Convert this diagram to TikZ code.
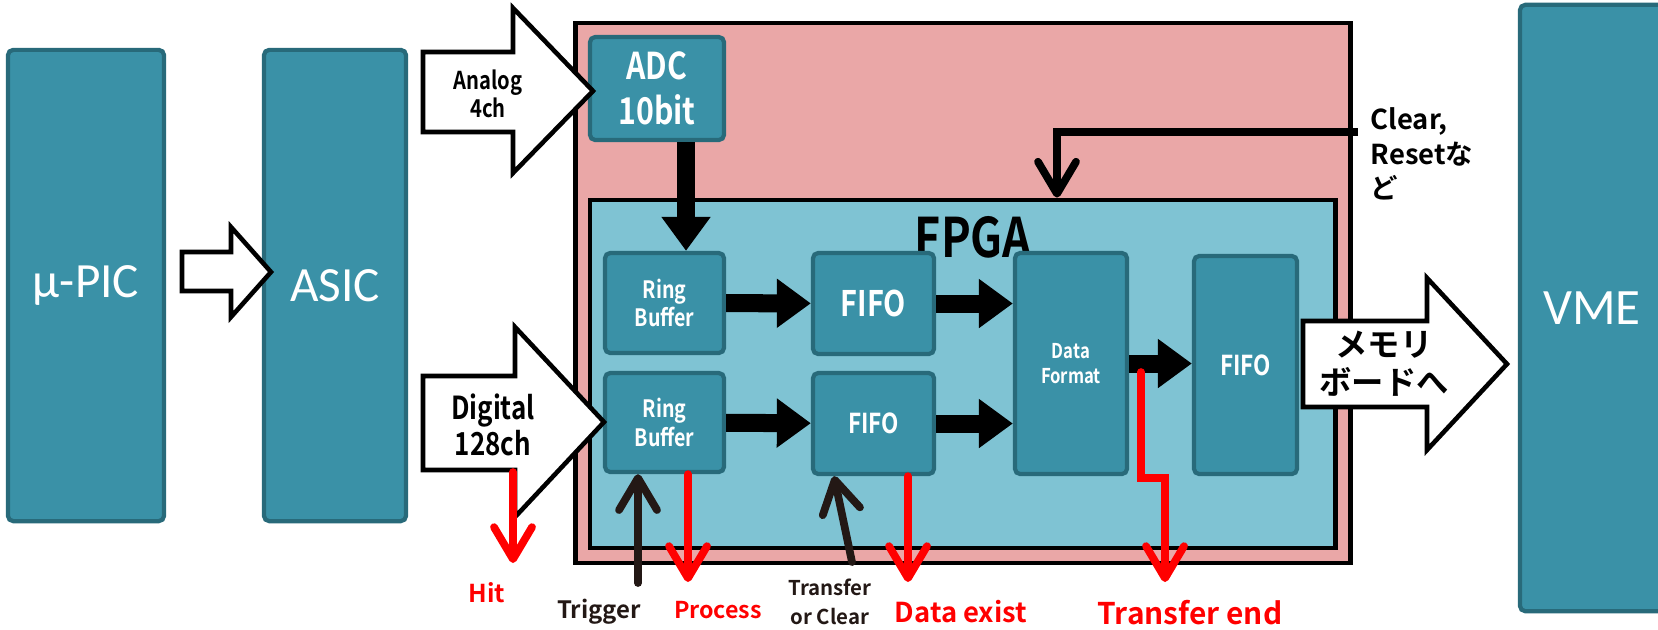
\documentclass[tikz,border=0pt]{standalone}
\usepackage{fontspec}
\setmainfont{Carlito}
\newfontfamily\jpfont{Noto Sans CJK JP Bold}
\newfontfamily\condfont[FakeStretch=0.82]{Noto Sans CJK JP Bold}
\usetikzlibrary{arrows.meta}
\definecolor{unitfill}{HTML}{3A91A7}
\definecolor{unitline}{HTML}{286A7A}
\definecolor{fpgafill}{HTML}{7FC3D3}
\definecolor{boardfill}{HTML}{EAA7A7}
\definecolor{sigred}{HTML}{FF0000}
\definecolor{sigdark}{HTML}{231815}

\begin{document}
\begin{tikzpicture}[x=0.01cm,y=-0.01cm,
  every node/.style={inner sep=0pt},
  unit/.style={draw=unitline,fill=unitfill,line width=1.2pt,rounded corners=1.5pt,text=white,align=center},
  frame/.style={draw=black,line width=1.3pt},
  hollow/.style={draw=black,fill=white,line width=1.3pt,line join=miter},
  fatarr/.style={line width=1.8mm,-{Triangle[length=3.4mm,width=4.7mm]}},
  sigarr/.style={line width=2.2pt,line cap=round,-{Straight Barb[length=3.2mm,width=3.8mm,round]}}]
\useasboundingbox (0,0) rectangle (1658,629);
\node[frame,fill=boardfill,minimum width=7.74cm,minimum height=5.4cm] (board) at (963,293) {};
\node[frame,fill=fpgafill,minimum width=7.45cm,minimum height=3.48cm] (fpga) at (962.5,374) {};
\node[font=\condfont\fontsize{15.5}{18}\selectfont] (fpgalbl) at (973,237) {FPGA};
\node[unit,minimum width=1.56cm,minimum height=4.71cm,font=\fontsize{14}{16}\selectfont] (mupic) at (86,285.5) {μ-PIC};
\node[unit,minimum width=1.42cm,minimum height=4.71cm,font=\fontsize{14}{16}\selectfont] (asic) at (335,285.5) {ASIC};
\node[unit,minimum width=1.44cm,minimum height=6.06cm,font=\fontsize{14.5}{16}\selectfont] (vme) at (1592,308) {VME};
\node[unit,minimum width=1.34cm,minimum height=1.03cm,font=\condfont\fontsize{10.5}{12.8}\selectfont] (adc) at (657,88.5) {ADC\\10bit};
\node[unit,minimum width=1.19cm,minimum height=1.0cm,font=\condfont\fontsize{6.8}{8}\selectfont] (rb1) at (664.5,303) {Ring\\Buffer};
\node[unit,minimum width=1.19cm,minimum height=0.99cm,font=\condfont\fontsize{6.8}{8}\selectfont] (rb2) at (664.5,422.5) {Ring\\Buffer};
\node[unit,minimum width=1.21cm,minimum height=1.01cm,font=\condfont\fontsize{10}{12}\selectfont] (fifo1) at (873.5,303.5) {FIFO};
\node[unit,minimum width=1.21cm,minimum height=1.01cm,font=\condfont\fontsize{7.8}{9}\selectfont] (fifo2) at (873.5,423.5) {FIFO};
\node[unit,minimum width=1.12cm,minimum height=2.21cm,font=\condfont\fontsize{5.8}{7}\selectfont] (df) at (1071,363.5) {Data\\Format};
\node[unit,minimum width=1.03cm,minimum height=2.18cm,font=\condfont\fontsize{7.8}{9}\selectfont] (fifo3) at (1245.5,365) {FIFO};
\draw[hollow] (182,252) -- (231,252) -- (231,227) -- (271,272) -- (231,317) -- (231,291) -- (182,291) -- cycle;
\draw[hollow] (423,52) -- (513,52) -- (513,8) -- (593,91) -- (513,173) -- (513,132) -- (423,132) -- cycle;
\draw[hollow] (423,376) -- (515,376) -- (515,327) -- (604,422) -- (515,517) -- (515,470) -- (423,470) -- cycle;
\draw[hollow] (1303,321) -- (1427,321) -- (1427,278) -- (1507,364) -- (1427,450) -- (1427,407) -- (1303,407) -- cycle;
\node[font=\condfont\fontsize{7}{8}\selectfont,align=center] (analog) at (488,94) {Analog\\4ch};
\node[font=\condfont\fontsize{9}{10.2}\selectfont,align=center] (digital) at (493,425) {Digital\\128ch};
\node[font=\jpfont\fontsize{9.2}{10.8}\selectfont,align=center] (memo) at (1384,364) {メモリ\\ボードへ};
\coordinate (adcout) at ([xshift=2.9mm]adc.south);
\draw[fatarr] (adcout) -- (adcout |- rb1.north);
\draw[fatarr] (rb1) -- (fifo1);
\draw[fatarr] (rb2) -- (fifo2);
\draw[fatarr] (fifo1.east) -- (fifo1.east -| df.west);
\draw[fatarr] (fifo2.east) -- (fifo2.east -| df.west);
\draw[fatarr] (df.east) -- (df.east -| fifo3.west);
\coordinate (clr) at (1358,132);
\coordinate (clrdrop) at (1057,132);
\draw[sigarr,line cap=butt] (clr) -- (clrdrop) -- (clrdrop |- fpga.north);
\node[anchor=west,align=left,font=\jpfont\fontsize{7.8}{9.9}\selectfont] (clrlbl) at (1370,154) {Clear,\\Resetな\\ど};
\coordinate (hitsrc) at (513,472);
\coordinate (hitend) at (513,563);
\draw[sigarr,sigred] (hitsrc) -- (hitend);
\coordinate (trigsrc) at (638,583);
\draw[sigarr,sigdark] (trigsrc) -- (trigsrc |- rb2.south);
\coordinate (procend) at (688,582);
\draw[sigarr,sigred] (procend |- rb2.south) -- (procend);
\coordinate (trclsrc) at (852,562);
\coordinate (trcltip) at (834,474);
\draw[sigarr,sigdark] (trclsrc) -- (trcltip |- fifo2.south);
\coordinate (dexend) at (908,582);
\draw[sigarr,sigred] (dexend |- fifo2.south) -- (dexend);
\coordinate (tendsrc) at (1141,372);
\coordinate (tendstep) at (1165,478);
\coordinate (tendend) at (1165,582);
\draw[sigarr,sigred,line join=miter] (tendsrc) |- (tendstep) -- (tendend);
\node[text=sigred,font=\jpfont\fontsize{7}{8}\selectfont] (hitlbl) at (487,593) {Hit};
\node[text=sigdark,font=\jpfont\fontsize{6.8}{8}\selectfont] (triglbl) at (599,612) {Trigger};
\node[text=sigred,font=\jpfont\fontsize{6.6}{8}\selectfont] (proclbl) at (718,610) {Process};
\node[text=sigdark,align=center,font=\jpfont\fontsize{5.8}{8.3}\selectfont] (trcllbl) at (830,602) {Transfer\\or Clear};
\node[text=sigred,font=\jpfont\fontsize{7.8}{9}\selectfont] (dexlbl) at (961,612) {Data exist};
\node[text=sigred,font=\jpfont\fontsize{8.5}{10}\selectfont] (tendlbl) at (1190,613) {Transfer end};
\end{tikzpicture}
\end{document}
